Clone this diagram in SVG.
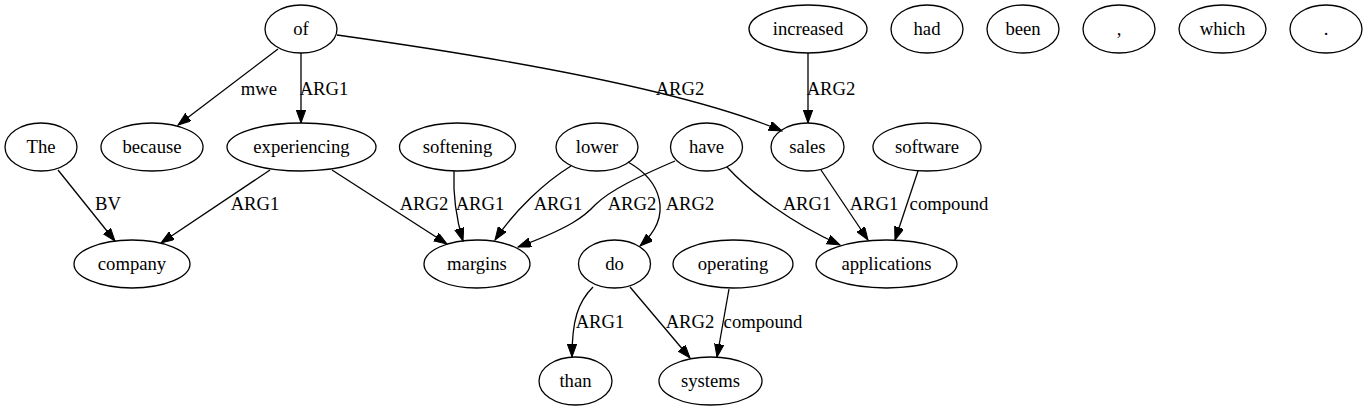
<svg xmlns="http://www.w3.org/2000/svg" width="1365" height="411" viewBox="0 0 1365 411" font-family="'Liberation Serif', 'Times New Roman', 'DejaVu Serif', serif">
<style>
.n ellipse{fill:none;stroke:#000;stroke-width:1.3}
text{font-family:'Liberation Serif','Times New Roman','DejaVu Serif',serif;font-size:18.67px;fill:#000;text-anchor:middle}
.e path{fill:none;stroke:#000;stroke-width:1.3;marker-end:url(#ah)}
</style>
<defs>
<marker id="ah" markerUnits="userSpaceOnUse" markerWidth="14" markerHeight="10" refX="13" refY="4.7" orient="auto">
<path d="M0,0 L13,4.7 L0,9.4 z" fill="#000" stroke="#000" stroke-width="1"/>
</marker>
</defs>
<rect width="1365" height="411" fill="#fff"/>
<g id="nodes">
<g id="n-of" class="n"><ellipse cx="301" cy="29" rx="36" ry="24"/><text x="301" y="35">of</text></g>
<g id="n-increased" class="n"><ellipse cx="808" cy="29" rx="59" ry="24"/><text x="808" y="35">increased</text></g>
<g id="n-had" class="n"><ellipse cx="927" cy="29" rx="36" ry="24"/><text x="927" y="35">had</text></g>
<g id="n-been" class="n"><ellipse cx="1023" cy="29" rx="36" ry="24"/><text x="1023" y="35">been</text></g>
<g id="n-comma" class="n"><ellipse cx="1119" cy="29" rx="36" ry="24"/><text x="1119" y="35">,</text></g>
<g id="n-which" class="n"><ellipse cx="1222.5" cy="29" rx="43.5" ry="24"/><text x="1222.5" y="35">which</text></g>
<g id="n-period" class="n"><ellipse cx="1326" cy="29" rx="36" ry="24"/><text x="1326" y="35">.</text></g>
<g id="n-The" class="n"><ellipse cx="41" cy="147" rx="36" ry="24"/><text x="41" y="153">The</text></g>
<g id="n-because" class="n"><ellipse cx="152" cy="147" rx="51" ry="24"/><text x="152" y="153">because</text></g>
<g id="n-experiencing" class="n"><ellipse cx="301.5" cy="147" rx="74.5" ry="24"/><text x="301.5" y="153">experiencing</text></g>
<g id="n-softening" class="n"><ellipse cx="457.5" cy="147" rx="58" ry="24"/><text x="457.5" y="153">softening</text></g>
<g id="n-lower" class="n"><ellipse cx="597" cy="147" rx="41" ry="24"/><text x="597" y="153">lower</text></g>
<g id="n-have" class="n"><ellipse cx="706.5" cy="147" rx="36" ry="24"/><text x="706.5" y="153">have</text></g>
<g id="n-sales" class="n"><ellipse cx="807.5" cy="147" rx="36.5" ry="24"/><text x="807.5" y="153">sales</text></g>
<g id="n-software" class="n"><ellipse cx="927" cy="147" rx="54" ry="24"/><text x="927" y="153">software</text></g>
<g id="n-company" class="n"><ellipse cx="132" cy="264" rx="58" ry="24"/><text x="132" y="270">company</text></g>
<g id="n-margins" class="n"><ellipse cx="477" cy="264" rx="53" ry="24"/><text x="477" y="270">margins</text></g>
<g id="n-do" class="n"><ellipse cx="614.5" cy="264" rx="36" ry="24"/><text x="614.5" y="270">do</text></g>
<g id="n-operating" class="n"><ellipse cx="733" cy="264" rx="60" ry="24"/><text x="733" y="270">operating</text></g>
<g id="n-applications" class="n"><ellipse cx="886.5" cy="264" rx="70.5" ry="24"/><text x="886.5" y="270">applications</text></g>
<g id="n-than" class="n"><ellipse cx="575.5" cy="381" rx="36.5" ry="24"/><text x="575.5" y="387">than</text></g>
<g id="n-systems" class="n"><ellipse cx="710.5" cy="381" rx="51.5" ry="24"/><text x="710.5" y="387">systems</text></g>
</g>
<g id="connectors" class="e">
<path d="M278,49 L178,125"/>
<path d="M301,53 L301,123"/>
<path d="M337,35 C480,55 680,88 782,131"/>
<path d="M808,53 L808,123"/>
<path d="M58,170 L115,241"/>
<path d="M270,170 L161,243"/>
<path d="M332,170 L447,244"/>
<path d="M454,171 C453,195 456,218 463,241"/>
<path d="M571,166 C545,182 515,210 495,240"/>
<path d="M675,161 C640,176 610,190 595,205 C585,216 570,228 518,247"/>
<path d="M628,162 C660,180 675,215 640,246"/>
<path d="M727,167 C750,192 790,222 840,245"/>
<path d="M821,170 L868,240"/>
<path d="M918,171 L895,240"/>
<path d="M593,287 C578,302 572,320 572,357"/>
<path d="M630,287 L690,358"/>
<path d="M729,289 L717,357"/>
</g>
<g id="labels">
<text x="259" y="95">mwe</text>
<text x="324" y="95">ARG1</text>
<text x="680" y="95">ARG2</text>
<text x="831" y="95">ARG2</text>
<text x="108" y="210">BV</text>
<text x="255" y="210">ARG1</text>
<text x="424" y="210">ARG2</text>
<text x="480" y="210">ARG1</text>
<text x="558" y="210">ARG1</text>
<text x="632" y="210">ARG2</text>
<text x="690" y="210">ARG2</text>
<text x="807" y="210">ARG1</text>
<text x="874" y="210">ARG1</text>
<text x="949" y="210">compound</text>
<text x="600" y="328">ARG1</text>
<text x="690" y="328">ARG2</text>
<text x="763" y="328">compound</text>
</g>
</svg>
